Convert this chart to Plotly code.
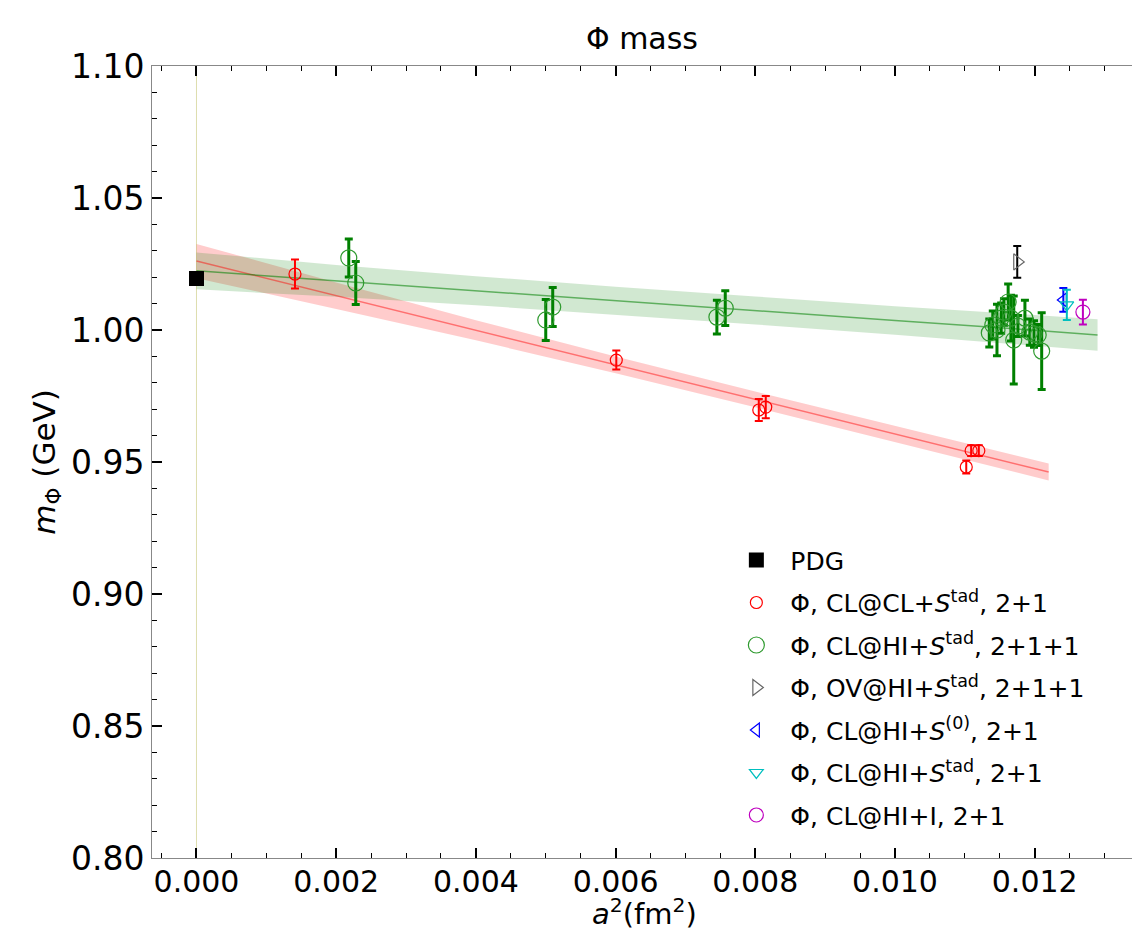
import plotly.graph_objects as go

# ---------------- data ----------------
pdg_x = [0.0]
pdg_y = [1.0195]

red_x = [0.00141, 0.00601, 0.00805, 0.00815, 0.01102, 0.01109, 0.01120]
red_y = [1.0212, 0.9886, 0.9697, 0.9708, 0.9481, 0.9543, 0.9543]
red_e = [0.0055, 0.0036, 0.0042, 0.0042, 0.0025, 0.0020, 0.0020]

green_x = [0.00218, 0.00228, 0.00500, 0.00510, 0.00745, 0.00757,
           0.01135, 0.01140, 0.01146, 0.01152, 0.01156, 0.01162, 0.01166,
           0.01170, 0.01176, 0.01186, 0.01193, 0.01199, 0.01205, 0.01210]
green_y = [1.0273, 1.0178, 1.0038, 1.0087, 1.0049, 1.0083,
           0.9989, 1.0019, 1.0000, 1.0045, 1.0068, 1.0106, 1.0045,
           0.9962, 1.0015, 1.0045, 0.9992, 0.9985, 0.9981, 0.9920]
green_e = [0.0072, 0.0081, 0.0078, 0.0074, 0.0064, 0.0066,
           0.0053, 0.0053, 0.0098, 0.0057, 0.0050, 0.0068, 0.0087,
           0.0167, 0.0040, 0.0068, 0.0050, 0.0050, 0.0040, 0.0145]

ov_x, ov_y, ov_e = [0.01175], [1.0258], [0.0060]
s0_x, s0_y, s0_e = [0.01241], [1.0114], [0.0045]
cy_x, cy_y, cy_e = [0.01246], [1.0095], [0.0057]
mg_x, mg_y, mg_e = [0.01269], [1.0068], [0.0047]

# fit curves and bands (read at a few a^2 values)
red_fit_x = [0.0, 0.002, 0.004, 0.006, 0.008, 0.010, 0.0122]
red_fit_c = [1.0261, 1.0130, 0.9999, 0.9868, 0.9737, 0.9606, 0.9462]
red_fit_lo = [1.0196, 1.0080, 0.9961, 0.9836, 0.9707, 0.9576, 0.9430]
red_fit_hi = [1.0326, 1.0180, 1.0037, 0.9900, 0.9767, 0.9636, 0.9494]

green_fit_x = [0.0, 0.002, 0.004, 0.006, 0.008, 0.010, 0.012, 0.0129]
green_fit_c = [1.0224, 1.0186, 1.0149, 1.0111, 1.0074, 1.0036, 0.9999, 0.9981]
green_fit_lo = [1.0154, 1.0126, 1.0094, 1.0058, 1.0021, 0.9982, 0.9941, 0.9921]
green_fit_hi = [1.0294, 1.0246, 1.0204, 1.0164, 1.0127, 1.0090, 1.0057, 1.0041]

x_ticks = [0.000, 0.002, 0.004, 0.006, 0.008, 0.010, 0.012]
y_ticks = [0.80, 0.85, 0.90, 0.95, 1.00, 1.05, 1.10]

FONT = "DejaVu Sans"

fig = go.Figure()

# vertical line at a^2 = 0
fig.add_trace(go.Scatter(x=[0, 0], y=[0.80, 1.10], mode="lines",
                         line=dict(color="rgba(200,200,120,0.6)", width=1),
                         showlegend=False, hoverinfo="skip"))

# bands
fig.add_trace(go.Scatter(x=red_fit_x, y=red_fit_hi, mode="lines", line=dict(width=0),
                         showlegend=False, hoverinfo="skip"))
fig.add_trace(go.Scatter(x=red_fit_x, y=red_fit_lo, mode="lines", line=dict(width=0),
                         fill="tonexty", fillcolor="rgba(255,0,0,0.2)",
                         showlegend=False, hoverinfo="skip"))
fig.add_trace(go.Scatter(x=green_fit_x, y=green_fit_hi, mode="lines", line=dict(width=0),
                         showlegend=False, hoverinfo="skip"))
fig.add_trace(go.Scatter(x=green_fit_x, y=green_fit_lo, mode="lines", line=dict(width=0),
                         fill="tonexty", fillcolor="rgba(0,128,0,0.18)",
                         showlegend=False, hoverinfo="skip"))
fig.add_trace(go.Scatter(x=red_fit_x, y=red_fit_c, mode="lines",
                         line=dict(color="rgba(255,0,0,0.45)", width=1.5),
                         showlegend=False, hoverinfo="skip"))
fig.add_trace(go.Scatter(x=green_fit_x, y=green_fit_c, mode="lines",
                         line=dict(color="rgba(0,128,0,0.55)", width=1.5),
                         showlegend=False, hoverinfo="skip"))

def pts(x, y, e, name, color, symbol, size, ecolor, thick, group, mcolor=None):
    fig.add_trace(go.Scatter(
        x=x, y=y, mode="markers", name=name, legendgroup=group,
        marker=dict(symbol=symbol, size=size, color=mcolor or color,
                    line=dict(color=mcolor or color, width=1.2)),
        error_y=dict(type="data", array=e, visible=True, color=ecolor,
                     thickness=thick, width=4)))

fig.add_trace(go.Scatter(x=pdg_x, y=pdg_y, mode="markers", name="PDG", legendgroup="g0",
                         marker=dict(symbol="square", size=15, color="black")))
pts(red_x, red_y, red_e, "Φ, CL@CL+<i>S</i><sup>tad</sup>, 2+1",
    "#ff0000", "circle-open", 12, "#ff0000", 2, "g1")
pts(green_x, green_y, green_e, "Φ, CL@HI+<i>S</i><sup>tad</sup>, 2+1+1",
    "#008000", "circle-open", 16, "#008000", 3, "g2", mcolor="#2e9a2e")
pts(ov_x, ov_y, ov_e, "Φ, OV@HI+<i>S</i><sup>tad</sup>, 2+1+1",
    "#000000", "triangle-right-open", 14, "#000000", 2, "g3", mcolor="#666666")
pts(s0_x, s0_y, s0_e, "Φ, CL@HI+<i>S</i><sup>(0)</sup>, 2+1",
    "#0000ff", "triangle-left-open", 12, "#0000ff", 2, "g4")
pts(cy_x, cy_y, cy_e, "Φ, CL@HI+<i>S</i><sup>tad</sup>, 2+1",
    "#00bfbf", "triangle-down-open", 12, "#00bfbf", 2, "g5")
pts(mg_x, mg_y, mg_e, "Φ, CL@HI+I, 2+1",
    "#bf00bf", "circle-open", 14, "#bf00bf", 2, "g6")

axis_common = dict(
    showgrid=False, zeroline=False, showline=True, linecolor="#888888", linewidth=1,
    ticks="inside", tickcolor="black", tickwidth=2, ticklen=10, automargin=False,
)

fig.update_layout(
    width=1132, height=934,
    margin=dict(l=152, r=0, t=66, b=76),
    paper_bgcolor="white", plot_bgcolor="white",
    font=dict(family=FONT, color="black"),
    title=dict(text="Φ mass", x=0.5, xref="paper", xanchor="center",
               y=1 - 38 / 934, yref="container", yanchor="middle",
               font=dict(family=FONT, size=30, color="black")),
    xaxis=dict(range=[-0.000637, 0.013393], tickvals=x_ticks,
               ticktext=[f"{v:.3f}" for v in x_ticks], mirror="ticks",
               tickfont=dict(family=FONT, size=30, color="black"),
               ticklabelstandoff=-3,
               minor=dict(dtick=0.0005, tick0=0, ticks="inside", ticklen=5,
                          tickwidth=1, tickcolor="black"),
               **axis_common),
    yaxis=dict(range=[0.80, 1.10], tickvals=y_ticks,
               ticktext=[f"{v:.2f}" for v in y_ticks], mirror=False,
               tickfont=dict(family=FONT, size=33, color="black"),
               minor=dict(dtick=0.01, tick0=0.8, ticks="inside", ticklen=5,
                          tickwidth=1, tickcolor="black"),
               title=dict(text="<i>m</i><sub>Φ</sub> (GeV)", standoff=6,
                          font=dict(family=FONT, size=31, color="black")),
               **axis_common),
    legend=dict(x=0.582, y=0.405, xanchor="left", yanchor="top",
                bgcolor="rgba(0,0,0,0)", borderwidth=0,
                font=dict(family=FONT, size=25, color="black"),
                traceorder="grouped", tracegroupgap=7, itemwidth=58),
    showlegend=True,
    annotations=[dict(text="<i>a</i><sup>2</sup>(fm<sup>2</sup>)",
                      xref="paper", yref="paper", x=0.503, y=-(933 - 858) / 792,
                      xanchor="center", yanchor="bottom", showarrow=False,
                      font=dict(family=FONT, size=29, color="black"))],
)

fig.write_html("out.html")
